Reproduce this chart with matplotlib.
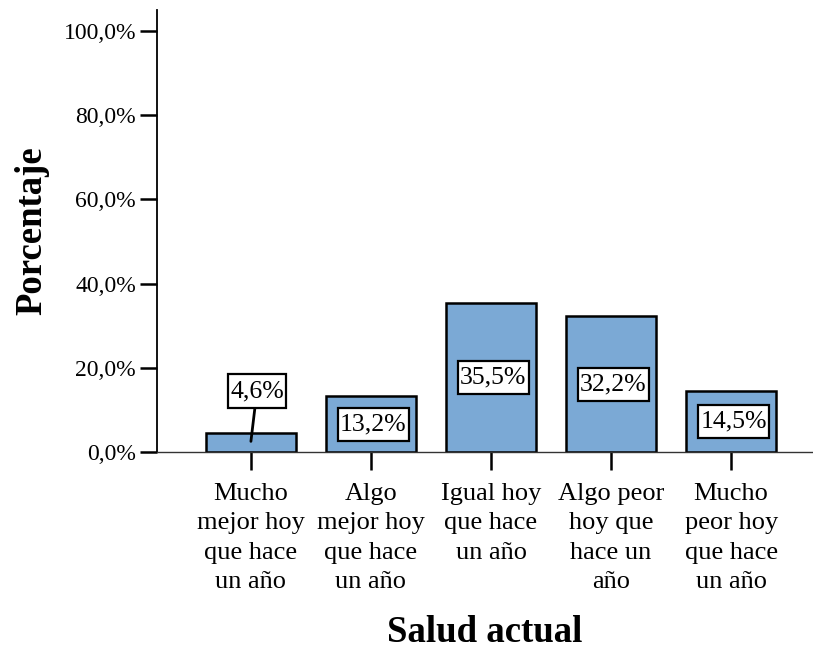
import matplotlib.pyplot as plt
from matplotlib.path import Path

# data
categorias = [
    "Mucho\nmejor hoy\nque hace\nun año",
    "Algo\nmejor hoy\nque hace\nun año",
    "Igual hoy\nque hace\nun año",
    "Algo peor\nhoy que\nhace un\naño",
    "Mucho\npeor hoy\nque hace\nun año",
]
porcentajes = [4.6, 13.2, 35.5, 32.2, 14.5]
yticks = [0, 20, 40, 60, 80, 100]
ytick_labels = ["0,0%", "20,0%", "40,0%", "60,0%", "80,0%", "100,0%"]

plt.rcParams["font.family"] = ["Liberation Serif", "DejaVu Serif"]


def caja(x0, y0, width, height, mutation_size):
    # rectangle with more vertical than horizontal padding
    px = 0.08 * mutation_size
    py = 0.22 * mutation_size
    x0, x1 = x0 - px, x0 + width + px
    y0, y1 = y0 - py, y0 + height + py
    return Path([(x0, y0), (x1, y0), (x1, y1), (x0, y1), (x0, y0)], closed=True)


fig = plt.figure(figsize=(8.13, 6.49), dpi=100)
ax = fig.add_axes([0.193, 0.3035, 0.806, 0.681])

x = list(range(len(categorias)))
ax.bar(x, porcentajes, width=0.75, color="#7BA9D5", edgecolor="black", linewidth=1.8, zorder=2)

# value labels in white boxes
box = dict(boxstyle=caja, fc="white", ec="black", lw=1.6)
for i, v in enumerate(porcentajes):
    lab = f"{v:.1f}%".replace(".", ",")
    if v < 8:
        # small bar: label above with leader line
        ax.annotate(lab, xy=(i, v * 0.55), xytext=(i + 0.05, 14.5),
                    ha="center", va="center", fontsize=18.5, bbox=box,
                    arrowprops=dict(arrowstyle="-", color="black", lw=2,
                                    shrinkA=0, shrinkB=0), zorder=3)
    else:
        ax.text(i + 0.02, v / 2, lab, ha="center", va="center",
                fontsize=18.5, bbox=box, zorder=3)

ax.set_xlim(-0.783, 4.675)
ax.set_ylim(0, 105)
ax.set_yticks(yticks)
ax.set_yticklabels(ytick_labels, fontsize=17)
ax.set_xticks(x)
ax.set_xticklabels(categorias, fontsize=19, linespacing=1.44)

ax.spines["top"].set_visible(False)
ax.spines["right"].set_visible(False)
ax.spines["left"].set_linewidth(1.3)
ax.spines["bottom"].set_linewidth(1.0)
ax.spines["bottom"].set_color("#333333")
ax.tick_params(axis="y", direction="out", length=12, width=1.8, pad=3)
ax.tick_params(axis="x", direction="out", length=13, width=1.8, pad=9)

ax.set_xlabel("Salud actual", fontsize=26.5, fontweight="bold", labelpad=16)
ax.set_ylabel("Porcentaje", fontsize=26.5, fontweight="bold", labelpad=10)

fig.savefig("out.png", dpi=100)
